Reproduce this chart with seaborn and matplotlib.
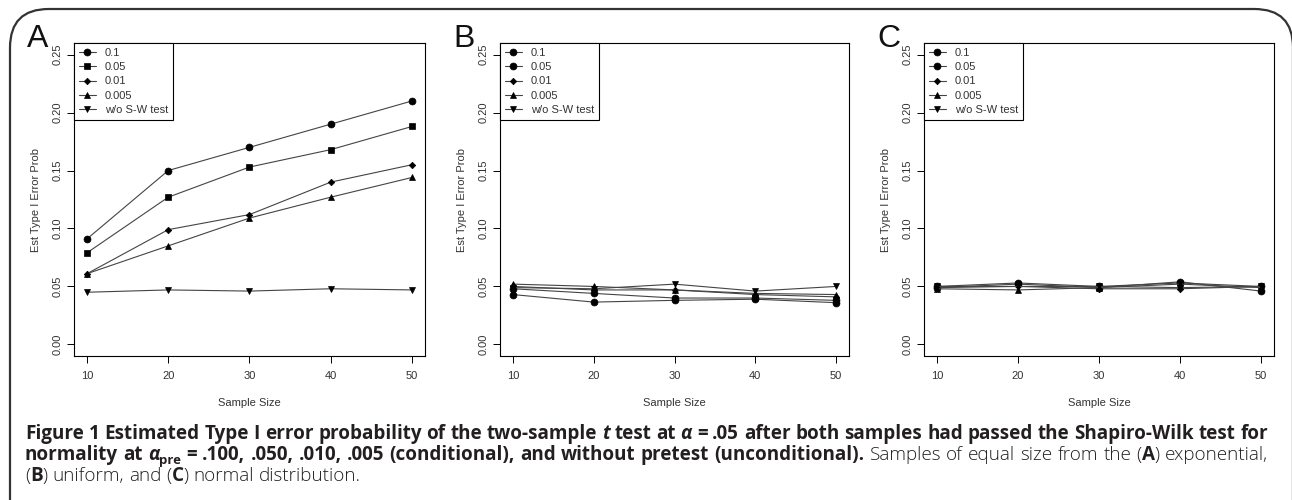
import matplotlib
matplotlib.use("Agg")
import matplotlib.pyplot as plt
import seaborn as sns
import pandas as pd
from matplotlib.patches import FancyBboxPatch

# ---------------- data ----------------
sample_size = [10, 20, 30, 40, 50]
series_labels = ["0.1", "0.05", "0.01", "0.005", "w/o S-W test"]

exp_01 = [0.091, 0.150, 0.170, 0.190, 0.210]
exp_005 = [0.079, 0.127, 0.153, 0.168, 0.188]
exp_001 = [0.061, 0.099, 0.112, 0.140, 0.155]
exp_0005 = [0.061, 0.085, 0.109, 0.127, 0.144]
exp_wo = [0.045, 0.047, 0.046, 0.048, 0.047]

uni_01 = [0.043, 0.0365, 0.038, 0.039, 0.036]
uni_005 = [0.048, 0.044, 0.040, 0.040, 0.038]
uni_001 = [0.050, 0.047, 0.047, 0.043, 0.041]
uni_0005 = [0.052, 0.050, 0.047, 0.044, 0.043]
uni_wo = [0.049, 0.048, 0.052, 0.046, 0.050]

nor_01 = [0.050, 0.053, 0.050, 0.053, 0.050]
nor_005 = [0.049, 0.052, 0.049, 0.054, 0.046]
nor_001 = [0.049, 0.050, 0.048, 0.048, 0.050]
nor_0005 = [0.048, 0.047, 0.049, 0.052, 0.049]
nor_wo = [0.050, 0.050, 0.050, 0.049, 0.050]

panel_letters = ["A", "B", "C"]
y_ticks = [0.00, 0.05, 0.10, 0.15, 0.20, 0.25]
y_tick_labels = ["0.00", "0.05", "0.10", "0.15", "0.20", "0.25"]
x_label = "Sample Size"
y_label = "Est Type I Error Prob"

panels = [
    [exp_01, exp_005, exp_001, exp_0005, exp_wo],
    [uni_01, uni_005, uni_001, uni_0005, uni_wo],
    [nor_01, nor_005, nor_001, nor_0005, nor_wo],
]
panel_markers = [
    ["o", "s", "D", "^", "v"],
    ["o", "o", "D", "^", "v"],
    ["o", "o", "D", "^", "v"],
]
marker_sizes = {"o": 5, "s": 4.5, "D": 3.3, "^": 5, "v": 5}

# ---------------- style ----------------
sns.set_theme(style="white")
plt.rcParams["font.family"] = ["Liberation Sans", "DejaVu Sans"]

W, H = 1292, 500
fig = plt.figure(figsize=(W / 100, H / 100), dpi=100)

axes_px = [(74, 425), (500, 849), (924, 1274)]
ax_top, ax_bot = 43, 356
line_col = "#444444"

for i, (l, r) in enumerate(axes_px):
    ax = fig.add_axes([l / W, 1 - ax_bot / H, (r - l) / W, (ax_bot - ax_top) / H])
    for vals, lab, mk in zip(panels[i], series_labels, panel_markers[i]):
        df = pd.DataFrame({"n": sample_size, "p": vals})
        sns.lineplot(data=df, x="n", y="p", ax=ax, color=line_col, linewidth=0.8,
                     marker=mk, markersize=marker_sizes[mk], markerfacecolor="black",
                     markeredgecolor="black", markeredgewidth=0.5, label=lab)
    ax.set_xlim(8.4, 51.6)
    ax.set_ylim(-0.01, 0.26)
    ax.set_xticks(sample_size)
    ax.set_xticklabels([str(v) for v in sample_size])
    ax.set_yticks(y_ticks)
    ax.set_yticklabels(y_tick_labels, rotation=90, va="center")
    ax.tick_params(axis="both", direction="out", length=5, width=0.7, colors="black",
                   labelsize=8, labelcolor="#333333", left=True, bottom=True)
    ax.tick_params(axis="x", pad=6)
    ax.tick_params(axis="y", pad=3.5)
    for sp in ax.spines.values():
        sp.set_color("black")
        sp.set_linewidth(0.8)
    ax.set_xlabel(x_label, fontsize=8, color="#333333", labelpad=12)
    ax.set_ylabel(y_label, fontsize=8, color="#333333", labelpad=8)
    leg = ax.legend(loc="upper left", borderaxespad=0, fancybox=False, frameon=True,
                    edgecolor="black", framealpha=1, fontsize=8, handlelength=1.5,
                    handletextpad=0.8, labelspacing=0.38, borderpad=0.45)
    leg.get_frame().set_linewidth(0.8)
    for t in leg.get_texts():
        t.set_color("#333333")
    fig.text((l - 47) / W, 1 - 47 / H, panel_letters[i], fontsize=23, color="#111111",
             ha="left", va="baseline")

# frame
frame = FancyBboxPatch((10 / W, -0.2), (W - 9) / W, 1 + 0.2 - 9 / H,
                       boxstyle="round,pad=0,rounding_size=0.03",
                       transform=fig.transFigure, fill=False, edgecolor="#333333",
                       linewidth=1.6, mutation_aspect=W / H)
fig.patches.append(frame)

# ---------------- caption ----------------
cap_font = ["Open Sans", "DejaVu Sans"]
cap_col = "#231f20"
fig.canvas.draw()
renderer = fig.canvas.get_renderer()

B = {"weight": "bold"}
BI = {"weight": "bold", "style": "italic"}
R = {"weight": "light"}
SUB = {"weight": "bold", "sub": True}

line1 = [("Figure 1 Estimated Type I error probability of the two-sample ", B), ("t", BI),
         (" test at ", B), ("α", BI), (" = .05 after both samples had passed the Shapiro-Wilk test for", B)]
line2 = [("normality at ", B), ("α", BI), ("pre", SUB),
         (" = .100, .050, .010, .005 (conditional), and without pretest (unconditional).", B),
         (" Samples of equal size from the (", R), ("A", B), (") exponential,", R)]
line3 = [("(", R), ("B", B), (") uniform, and (", R), ("C", B), (") normal distribution.", R)]


def props_for(kw, size):
    p = dict(fontsize=size * (0.7 if kw.get("sub") else 1.0), color=cap_col, family=cap_font,
             weight=kw.get("weight", "normal"), style=kw.get("style", "normal"))
    return p


def width_of(s, p):
    t = fig.text(0, 0, s, **p)
    w = t.get_window_extent(renderer=renderer).width
    t.remove()
    return w


def space_w(p):
    return width_of("a a", p) - width_of("aa", p)


def tokens(runs, size):
    """Split runs into (text, props, space_before, kw) pieces."""
    out = []
    for txt, kw in runs:
        p = props_for(kw, size)
        parts = txt.split(" ")
        for j, w in enumerate(parts):
            sp = j > 0
            if w == "" and j < len(parts) - 1:
                out.append(("", p, sp, kw))
                continue
            out.append((w, p, sp, kw))
    return out


def measure(runs, size):
    total, nsp = 0.0, 0
    for w, p, sp, kw in tokens(runs, size):
        if sp:
            total += space_w(p)
            nsp += 1
        if w:
            total += width_of(w, p)
    return total, nsp


def draw_line(runs, size, x0, y0, target=None):
    natural, nsp = measure(runs, size)
    extra = 0.0
    if target is not None and nsp > 0:
        extra = (target - natural) / nsp
    x = x0
    for w, p, sp, kw in tokens(runs, size):
        if sp:
            x += space_w(p) + extra
        if w:
            dy = -4 if kw.get("sub") else 0
            fig.text(x / W, (H - y0 + dy) / H, w, ha="left", va="baseline", **p)
            x += width_of(w, p)


x_start, x_end = 25, 1268
base = 13.5
w1, _ = measure(line1, base)
cap_size = base * (x_end - x_start) / w1
cap_size = min(cap_size, 14.0)

draw_line(line1, cap_size, x_start, 439, target=x_end - x_start)
draw_line(line2, cap_size, x_start, 460, target=x_end - x_start)
draw_line(line3, cap_size, x_start, 481)

fig.savefig("out.png", dpi=100)
